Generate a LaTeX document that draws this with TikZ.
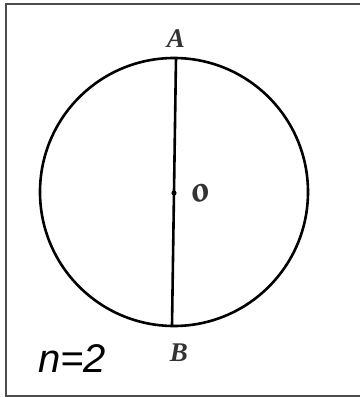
\documentclass[tikz,border=0pt]{standalone}
\usepackage{fontspec}
\setmainfont{Liberation Serif}
\newfontfamily\lsans{Liberation Sans}
\begin{document}
\begin{tikzpicture}[x=1pt,y=-1pt,
  frame/.style={draw=black!70,line width=1.2pt},
  curve/.style={draw=black,line width=2.6pt},
  lbl/.style={inner sep=0pt,font=\bfseries\itshape\fontsize{27}{27}\selectfont,text=black!80}]
\useasboundingbox (0,0) rectangle (360,397);
\draw[frame] (6,397) -- (6,4) -- (360,4);
\draw[frame] (6,396) -- (360,396);
\node[curve,circle,minimum size=268pt,inner sep=0pt] (c) at (174,192) {};
\coordinate (a) at (176,58);
\coordinate (b) at (172,326);
\draw[line width=2.6pt] (a) -- (b);
\fill (174,193) circle (2.6pt);
\node[lbl] (la) at (176,39) {A};
\node[lbl] (lb) at (179,353) {B};
\node[inner sep=0pt,font=\bfseries\itshape\fontsize{36}{36}\selectfont,text=black!80,rotate=15] (lo) at (201,193) {o};
\node[inner sep=0pt,anchor=base west,font=\lsans\itshape\fontsize{40}{40}\selectfont] (n) at (38,372) {n=2};
\end{tikzpicture}
\end{document}
